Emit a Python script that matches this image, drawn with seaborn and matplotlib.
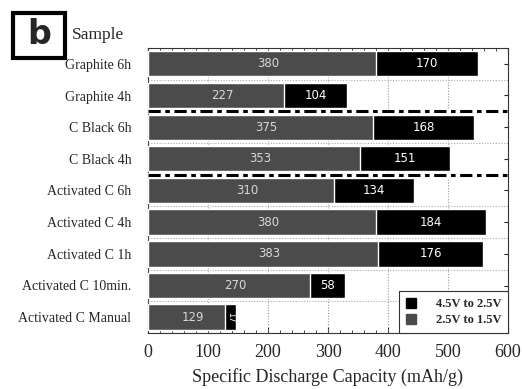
import matplotlib
matplotlib.use("Agg")
import matplotlib.pyplot as plt
import seaborn as sns
import pandas as pd
from matplotlib.patches import Patch, Rectangle
from matplotlib.ticker import MultipleLocator

samples = ["Graphite 6h", "Graphite 4h", "C Black 6h", "C Black 4h",
           "Activated C 6h", "Activated C 4h", "Activated C 1h",
           "Activated C 10min.", "Activated C Manual"]
low_range = [380, 227, 375, 353, 310, 380, 383, 270, 129]   # 2.5V to 1.5V
high_range = [170, 104, 168, 151, 134, 184, 176, 58, 17]    # 4.5V to 2.5V
low_labels = ["380", "227", "375", "353", "310", "380", "383", "270", "129"]
high_labels = ["170", "104", "168", "151", "134", "184", "176", "58", "17"]

df = pd.DataFrame({"Sample": samples, "low": low_range, "high": high_range})
df["total"] = df["low"] + df["high"]

sns.set_style("white")
plt.rcParams["font.family"] = ["Liberation Serif", "DejaVu Serif"]

fig = plt.figure(figsize=(5.23, 3.89), dpi=100)
ax = fig.add_axes([148/523, 1-333/389, 360/523, 285/389])

GRAY = "#4b4b4b"
sns.barplot(data=df, y="Sample", x="total", color="black", orient="h",
            width=0.8, ax=ax, saturation=1, zorder=2)
sns.barplot(data=df, y="Sample", x="low", color=GRAY, orient="h",
            width=0.8, ax=ax, saturation=1, zorder=3)

ax.set_xlim(0, 600)
ax.set_ylim(len(samples) - 0.5, -0.5)

# value labels
for i, (lo, hi) in enumerate(zip(low_range, high_range)):
    ax.text(lo / 2 + 10, i, low_labels[i], color="#d8d8d8", ha="center", va="center",
            fontsize=8.5, family="DejaVu Sans", zorder=5)
    if hi < 30:
        ax.text(lo + hi / 2, i, high_labels[i], color="white", ha="center", va="center",
                fontsize=6, family="DejaVu Sans", rotation=270, zorder=5)
    else:
        ax.text(lo + hi / 2, i, high_labels[i], color="white", ha="center", va="center",
                fontsize=8.5, family="DejaVu Sans", zorder=5)

# grid
for xv in [100, 200, 300, 400, 500]:
    ax.axvline(xv, color="#999999", ls=(0, (1, 1.5)), lw=0.8, zorder=1)
for yv in [0.5, 2.5, 4.5, 5.5, 6.5, 7.5]:
    ax.axhline(yv, color="#aaaaaa", ls=(0, (1, 1.5)), lw=0.8, zorder=4)
for yv in [1.5, 3.5]:
    ax.axhline(yv, color="white", lw=3.5, zorder=6)
    ax.axhline(yv, color="black", ls=(0, (4, 1.5, 1.5, 1.5)), lw=2.2, zorder=7)

ax.xaxis.set_major_locator(MultipleLocator(100))
ax.xaxis.set_minor_locator(MultipleLocator(20))
ax.tick_params(axis="x", which="both", direction="in", top=True, bottom=True)
ax.tick_params(axis="x", which="major", length=4, labelsize=13, pad=8)
ax.tick_params(axis="x", which="minor", length=2)
ax.tick_params(axis="y", which="major", direction="in", length=3, left=False, right=True,
               labelsize=10, pad=12)
for s in ax.spines.values():
    s.set_linewidth(0.8)
    s.set_color("#333333")

ax.set_ylabel("")
ax.set_xlabel("Specific Discharge Capacity (mAh/g)", fontsize=13, labelpad=5)

handles = [Patch(facecolor="black", edgecolor="black", label="4.5V to 2.5V"),
           Patch(facecolor=GRAY, edgecolor=GRAY, label="2.5V to 1.5V")]
leg = ax.legend(handles=handles, loc="lower right", prop={"size": 9, "weight": "bold"},
                frameon=True, fancybox=False, edgecolor="#333333", framealpha=1,
                handlelength=0.8, handleheight=0.8, borderpad=0.55, handletextpad=1.6,
                borderaxespad=0, labelspacing=0.3, bbox_to_anchor=(1.0, 0.0))
leg.set_zorder(10)
leg.get_frame().set_linewidth(0.8)

fig.text(72/523, 1-35/389, "Sample", fontsize=12.5, ha="left", va="center")
fig.patches.append(Rectangle((13/523, 1-58/389), 52/523, 45/389, transform=fig.transFigure,
                             facecolor="white", edgecolor="black", lw=3))
fig.text(39/523, 1-35/389, "b", fontsize=24, fontweight="bold", family="DejaVu Sans",
         ha="center", va="center")

fig.savefig("out.png", dpi=100)
